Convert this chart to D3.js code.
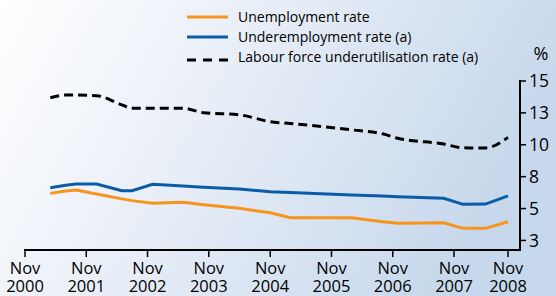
<!DOCTYPE html>
<html>
<head>
<meta charset="utf-8">
<script src="https://cdn.jsdelivr.net/npm/d3@7"></script>
<style>
  body { margin: 0; }
  svg { display: block; font-family: "Open Sans", sans-serif; }
</style>
</head>
<body>
<script>

var dates = ["2001-04","2001-07","2001-09","2002-01","2002-06","2002-08","2002-12","2003-06","2003-10","2004-05",
             "2004-11","2005-03","2006-03","2006-09","2006-12","2007-09","2008-01","2008-06","2008-11"]
var unemployment   = [6.19,6.37,6.45,6.14,5.76,5.62,5.41,5.49,5.30,5.02,4.67,4.28,4.28,3.97,3.84,3.89,3.45,3.45,3.96]
var underemployment = [6.63,6.82,6.92,6.92,6.40,6.40,6.90,6.76,6.67,6.53,6.32,6.25,6.07,5.98,5.93,5.80,5.33,5.35,6.00]
var underutilisation = [13.69,13.90,13.90,13.85,13.13,12.86,12.86,12.86,12.51,12.35,11.81,11.67,11.17,10.86,10.51,10.06,9.76,9.75,10.58]

var seriesNames = ["Unemployment rate", "Underemployment rate (a)", "Labour force underutilisation rate (a)"]

var xTicks = ["2000-11","2001-11","2002-11","2003-11","2004-11","2005-11","2006-11","2007-11","2008-11"]
var yTicks = [2.5, 5, 7.5, 10, 12.5, 15]
var yTickLabels = ["3","5","8","10","13","15"]

var W = 556, H = 296;
var parse = d3.timeParse("%Y-%m");

var svg = d3.select("body").append("svg")
            .attr("width", W)
            .attr("height", H);

// background
var grad = svg.append("defs").append("linearGradient")
              .attr("id", "bg")
              .attr("x1", "0").attr("y1", "0")
              .attr("x2", "1").attr("y2", "0.3");
grad.append("stop").attr("offset", "0").attr("stop-color", "#ffffff");
grad.append("stop").attr("offset", "0.45").attr("stop-color", "#e8eef7");
grad.append("stop").attr("offset", "1").attr("stop-color", "#c7d8ec");
svg.append("rect").attr("width", W).attr("height", H).attr("fill", "url(#bg)");

// scales - last year on the axis is a bit shorter in the original
var x = d3.scaleTime()
          .domain([parse("2000-11"), parse("2007-11"), parse("2008-11")])
          .range([25, 454, 508]);
var y = d3.scaleLinear()
          .domain([1.75, 15])
          .range([250, 81]);

var axisY = 250, axisX = 520;

// x axis
svg.append("line")
   .attr("x1", x(parse(xTicks[0])) - 1).attr("x2", axisX)
   .attr("y1", axisY).attr("y2", axisY)
   .attr("stroke", "#000").attr("stroke-width", 2);

var xt = svg.selectAll(".xt").data(xTicks).enter().append("g")
            .attr("transform", function(d) { return "translate(" + x(parse(d)) + "," + axisY + ")"; });
xt.append("line").attr("y1", 0).attr("y2", 7).attr("stroke", "#000").attr("stroke-width", 1.5);
var xl = xt.append("text").attr("text-anchor", "middle").attr("font-size", 16.5);
xl.append("tspan").attr("x", 0).attr("y", 24).text("Nov");
xl.append("tspan").attr("x", 0).attr("y", 42).text(function(d) { return d.slice(0, 4); });

// y axis on the right
svg.append("line")
   .attr("x1", axisX).attr("x2", axisX)
   .attr("y1", y(15) - 1).attr("y2", axisY + 1)
   .attr("stroke", "#000").attr("stroke-width", 2);

var yt = svg.selectAll(".yt").data(yTicks).enter().append("g")
            .attr("transform", function(d) { return "translate(" + axisX + "," + y(d) + ")"; });
yt.append("line").attr("x1", 0).attr("x2", 6).attr("stroke", "#000").attr("stroke-width", 1.5);
yt.append("text").attr("x", 9).attr("dy", "0.36em").attr("font-size", 17.5)
  .text(function(d, i) { return yTickLabels[i]; });

svg.append("text").attr("x", 541).attr("y", 60).attr("text-anchor", "middle")
   .attr("font-size", 18).text("%");

// lines
var series = [
  {name: seriesNames[0], values: unemployment, color: "#f7941d", dash: null, curve: d3.curveLinear},
  {name: seriesNames[1], values: underemployment, color: "#0b5ca8", dash: null, curve: d3.curveLinear},
  {name: seriesNames[2], values: underutilisation, color: "#000000", dash: "9,5", curve: d3.curveMonotoneX}
];

series.forEach(function(s) {
  var line = d3.line()
               .x(function(d, i) { return x(parse(dates[i])); })
               .y(function(d) { return y(d); })
               .curve(s.curve);
  svg.append("path")
     .attr("d", line(s.values))
     .attr("fill", "none")
     .attr("stroke", s.color)
     .attr("stroke-width", 3)
     .attr("stroke-dasharray", s.dash);
});

// legend
var lg = svg.selectAll(".lg").data(series).enter().append("g")
            .attr("transform", function(d, i) { return "translate(187," + (17 + i * 20) + ")"; });
lg.append("line")
  .attr("x1", 0).attr("x2", 41)
  .attr("y1", function(d, i) { return i == 2 ? 3 : 0; })
  .attr("y2", function(d, i) { return i == 2 ? 3 : 0; })
  .attr("stroke", function(d) { return d.color; })
  .attr("stroke-width", 3)
  .attr("stroke-dasharray", function(d) { return d.dash ? "9,7" : null; });
lg.append("text").attr("x", 51).attr("dy", "0.35em").attr("font-size", 14)
  .text(function(d) { return d.name; });

</script>
</body>
</html>
